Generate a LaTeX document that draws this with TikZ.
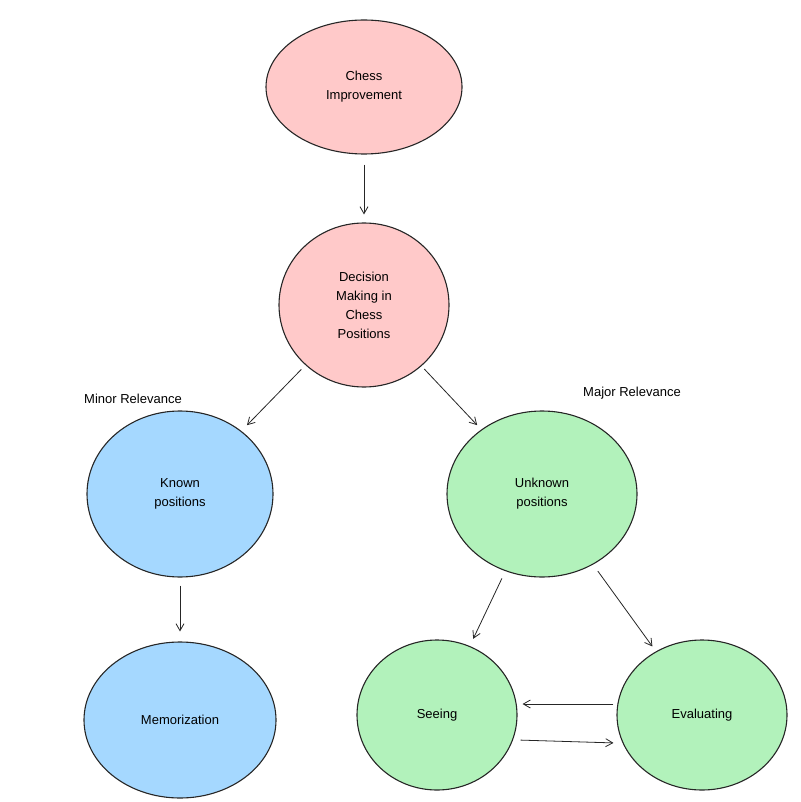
\documentclass[tikz,border=0pt]{standalone}
\usepackage{fontspec}
\setmainfont{Liberation Sans}
\usetikzlibrary{shapes.geometric,arrows.meta}
\definecolor{pinkfill}{RGB}{255,201,201}
\definecolor{bluefill}{RGB}{165,216,255}
\definecolor{greenfill}{RGB}{178,242,187}
\tikzset{
  bubble/.style={ellipse,draw=black!85,line width=1.1pt,align=center,font=\fontsize{13}{19}\selectfont},
  link/.style={-{Straight Barb[length=7pt,width=8pt]},line width=0.8pt,black!85},
  tag/.style={font=\fontsize{13}{16}\selectfont}
}
\begin{document}
\begin{tikzpicture}[x=1pt,y=1pt,yscale=-1,xscale=1]
\path[use as bounding box] (0,0) rectangle (800,802);

% Bubbles
\node (chess) [bubble,fill=pinkfill,minimum width=196pt,minimum height=134pt] at (364,87) {Chess\\Improvement};
\node (decision) [bubble,fill=pinkfill,minimum width=170pt,minimum height=164pt] at (364,305) {Decision\\Making in\\Chess\\Positions};
\node (known) [bubble,fill=bluefill,minimum width=186pt,minimum height=166pt] at (180,494) {Known\\positions};
\node (unknown) [bubble,fill=greenfill,minimum width=190pt,minimum height=166pt] at (542,494) {Unknown\\positions};
\node (memo) [bubble,fill=bluefill,minimum width=192pt,minimum height=156pt] at (180,720) {Memorization};
\node (seeing) [bubble,fill=greenfill,minimum width=160pt,minimum height=150pt] at (437,715) {Seeing};
\node (evaluating) [bubble,fill=greenfill,minimum width=170pt,minimum height=150pt] at (702,715) {Evaluating};

% Labels
\node (minor) [tag] at (133,399) {Minor Relevance};
\node (major) [tag] at (632,393) {Major Relevance};

% Links
\draw [link,shorten <=10pt,shorten >=8pt] (chess) -- (decision);
\draw [link,shorten <=6pt,shorten >=8pt] (decision) -- (known);
\draw [link,shorten <=4pt,shorten >=6pt] (decision) -- (unknown);
\draw [link,shorten <=8pt,shorten >=10pt] (known) -- (memo);
\draw [link,shorten <=8pt,shorten >=8pt] (unknown) -- (seeing);
\draw [link,shorten <=8pt,shorten >=6pt] (unknown) -- (evaluating);
\draw [link,shorten <=3pt,shorten >=5pt] ([yshift=-11pt]evaluating.west) -- ([yshift=-11pt]seeing.east);
\draw [link,shorten <=3pt,shorten >=3pt] ([yshift=25pt]seeing.east) -- ([yshift=28pt]evaluating.west);
\end{tikzpicture}
\end{document}
